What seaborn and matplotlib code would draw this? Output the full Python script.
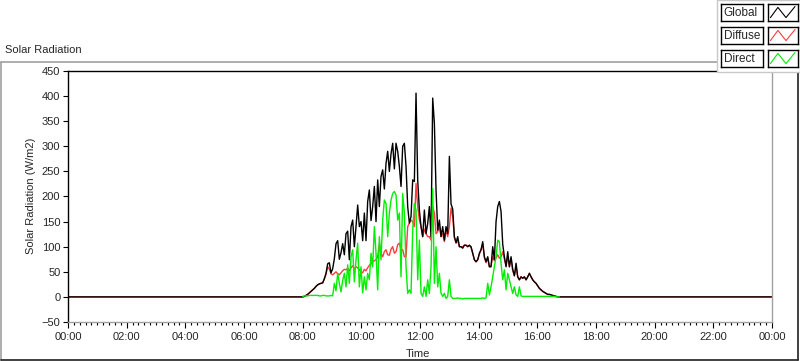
import numpy as np
import pandas as pd
import matplotlib
matplotlib.use("Agg")
import matplotlib.pyplot as plt
import seaborn as sns
from matplotlib.lines import Line2D
from matplotlib.patches import Rectangle
from matplotlib.ticker import MultipleLocator, FuncFormatter

# --- data (W/m2), one reading every ~3.4 min starting 08:00 ---
day_start_h = 8.0
step_min = 3.41
night_hours = [0.0, 24.0]   # flat zero line before sunrise / after sunset

global_wm2 = [
    0, 1, 3, 5, 8, 11, 14, 17, 21, 24,
    26, 27, 28, 36, 47, 66, 68, 48, 56, 76,
    106, 112, 75, 88, 106, 84, 126, 131, 74, 140,
    153, 100, 140, 183, 140, 150, 112, 167, 112, 190,
    213, 152, 180, 220, 150, 233, 180, 240, 253, 215,
    266, 290, 250, 285, 306, 255, 306, 290, 260, 220,
    300, 306, 260, 180, 147, 160, 233, 230, 406, 233,
    173, 140, 120, 173, 126, 146, 180, 120, 396, 346,
    213, 133, 153, 120, 140, 113, 140, 126, 280, 185,
    175, 120, 108, 120, 100, 100, 97, 103, 103, 100,
    103, 100, 87, 74, 70, 74, 87, 94, 110, 80,
    70, 80, 60, 60, 100, 74, 150, 180, 190, 170,
    105, 80, 60, 90, 60, 80, 55, 42, 67, 40,
    34, 40, 37, 40, 34, 40, 47, 40, 34, 30,
    27, 22, 17, 14, 11, 9, 7, 5, 5, 4,
    3, 2, 1, 0, 0,
]

diffuse_wm2 = [
    0, 1, 3, 5, 8, 11, 14, 17, 21, 24,
    26, 27, 28, 36, 45, 60, 55, 46, 44, 47,
    50, 46, 44, 48, 52, 55, 54, 57, 52, 58,
    62, 55, 60, 58, 54, 50, 48, 55, 52, 58,
    63, 66, 70, 72, 74, 80, 105, 87, 80, 90,
    94, 84, 83, 95, 100, 87, 90, 104, 107, 95,
    94, 80, 80, 140, 147, 153, 150, 140, 226, 180,
    153, 140, 120, 135, 126, 120, 120, 113, 180, 167,
    126, 130, 140, 120, 126, 110, 133, 120, 140, 177,
    160, 118, 107, 113, 100, 100, 100, 103, 103, 100,
    103, 98, 87, 74, 70, 74, 85, 94, 106, 78,
    68, 78, 60, 62, 80, 72, 78, 84, 77, 80,
    90, 75, 62, 80, 60, 75, 52, 42, 60, 40,
    34, 40, 37, 40, 34, 40, 47, 40, 34, 30,
    27, 22, 17, 14, 11, 9, 7, 5, 5, 4,
    3, 2, 1, 0, 0,
]

direct_wm2 = [
    1, 2, 2, 2, 3, 3, 3, 3, 3, 3,
    2, 2, 3, 3, 2, 2, 2, 3, 2, 27,
    12, 47, 27, 10, 33, 47, 20, 64, 27, 80,
    94, 30, 74, 107, 20, 60, 8, 40, 14, 47,
    34, 87, 60, 140, 87, 14, 120, 74, 153, 193,
    186, 120, 167, 193, 206, 210, 203, 153, 167, 40,
    206, 167, 60, 7, 14, 7, 133, 186, 173, 34,
    113, 7, 1, 20, 1, 34, 7, 60, 216, 27,
    100, 20, 47, 7, 1, 7, -3, 1, 34, 1,
    -3, -3, -3, -2, -3, -3, -4, -3, -3, -3,
    -3, -3, -3, -3, -3, -3, -3, -3, -2, -3,
    -2, 27, 4, 20, 40, 60, 80, 113, 110, 67,
    34, 54, 14, 47, 34, 20, 7, 20, 4, 1,
    20, 2, 1, 1, 1, 1, 1, 1, 1, 1,
    1, 1, 1, 1, 1, 1, 1, 1, 1, 1,
    1, 1, 0, 0, 0,
]

series_names = ["Global", "Diffuse", "Direct"]
series_colors = {"Global": "#000000", "Diffuse": "#ff3c3c", "Direct": "#00ee00"}

# --- build long table ---
day_hours = day_start_h + np.arange(len(global_wm2)) * step_min / 60.0
frames = []
for name, vals, with_night in [("Diffuse", diffuse_wm2, True),
                               ("Global", global_wm2, True),
                               ("Direct", direct_wm2, False)]:
    h = list(day_hours)
    v = list(vals)
    if with_night:
        h = [night_hours[0]] + h + [night_hours[1]]
        v = [0] + v + [0]
    frames.append(pd.DataFrame({"hour": h, "value": v, "series": name}))
df = pd.concat(frames, ignore_index=True)

# --- figure ---
sns.set_style("white")
plt.rcParams["font.family"] = ["Liberation Sans", "DejaVu Sans"]
plt.rcParams["font.size"] = 8

W, H = 800, 361
fig = plt.figure(figsize=(W / 100, H / 100), dpi=100)
fig.patch.set_facecolor("white")

def fx(px):
    return px / W

def fy(py):
    return 1 - py / H

ax = fig.add_axes([fx(68), fy(322), fx(772 - 68), (322 - 71) / H])

sns.lineplot(data=df, x="hour", y="value", hue="series",
             hue_order=["Diffuse", "Global", "Direct"],
             palette=series_colors, estimator=None, legend=False,
             linewidth=1.0, ax=ax)

ax.set_xlim(0, 24)
ax.set_ylim(-50, 450)
ax.xaxis.set_major_locator(MultipleLocator(2))
ax.xaxis.set_minor_locator(MultipleLocator(0.2))
ax.yaxis.set_major_locator(MultipleLocator(50))
ax.xaxis.set_major_formatter(FuncFormatter(lambda v, p: "%02d:00" % (int(round(v)) % 24)))
ax.set_xlabel("")
ax.set_ylabel("")
ax.tick_params(axis="x", which="major", direction="out", length=4, width=0.8,
               color="black", pad=3, labelsize=8, bottom=True)
ax.tick_params(axis="x", which="minor", direction="out", length=2.4, width=0.8,
               color="black", bottom=True)
ax.tick_params(axis="y", which="major", direction="out", length=3.5, width=0.8,
               color="black", pad=2, labelsize=8, left=True)

for side in ["top", "left"]:
    ax.spines[side].set_color("black")
    ax.spines[side].set_linewidth(1.0)
for side in ["right", "bottom"]:
    ax.spines[side].set_color("#a0a0a0")
    ax.spines[side].set_linewidth(1.0)

# labels
fig.text(fx(5), fy(50), "Solar Radiation", ha="left", va="center", fontsize=8)
fig.text(fx(31), fy(196), "Solar Radiation (W/m2)", rotation=90,
         ha="center", va="center", fontsize=8)
fig.text(fx(418), fy(354), "Time", ha="center", va="center", fontsize=8)

# panel frame (sunken look)
fig.add_artist(Line2D([fx(0.5), fx(0.5)], [fy(62), fy(360)], color="#a0a0a0", lw=1.2))
fig.add_artist(Line2D([fx(0.5), fx(718)], [fy(62), fy(62)], color="#a0a0a0", lw=1.2))
fig.add_artist(Line2D([fx(0.5), fx(797.5)], [fy(359.5), fy(359.5)], color="#202020", lw=1.2))
fig.add_artist(Line2D([fx(797.5), fx(797.5)], [fy(62), fy(359.5)], color="#202020", lw=1.2))

# legend block at top right
fig.add_artist(Rectangle((fx(717), fy(72)), fx(83), 72 / H, facecolor="white",
                         edgecolor="#c8c8c8", lw=1.0, zorder=5))
row_tops = [4, 27, 50]
for name, top in zip(series_names, row_tops):
    lab = fig.add_axes([fx(721), fy(top + 17), fx(42), 17 / H], zorder=6)
    lab.set_xticks([])
    lab.set_yticks([])
    lab.set_facecolor("white")
    for s in lab.spines.values():
        s.set_color("black")
        s.set_linewidth(1.0)
    lab.text(0.06, 0.45, name, ha="left", va="center", fontsize=8.5,
             transform=lab.transAxes)

    ico = fig.add_axes([fx(768), fy(top + 17), fx(30), 17 / H], zorder=6)
    ico.set_xticks([])
    ico.set_yticks([])
    ico.set_xlim(0, 1)
    ico.set_ylim(0, 1)
    for s in ico.spines.values():
        s.set_color("black")
        s.set_linewidth(1.0)
    ico.plot([0.08, 0.33, 0.6, 0.9], [0.2, 0.8, 0.2, 0.85],
             color=series_colors[name], lw=0.8)

fig.savefig("out.png", dpi=100, facecolor="white")
